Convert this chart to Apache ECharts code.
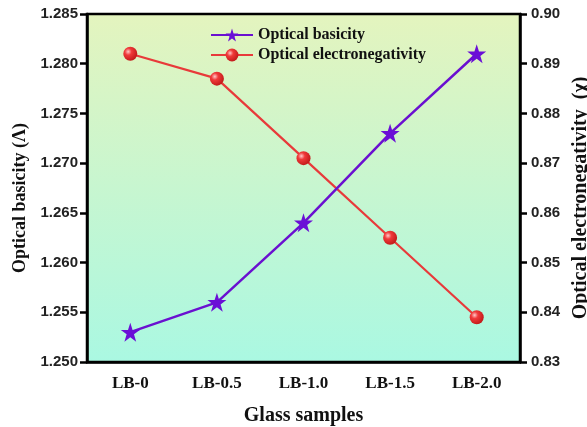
<!DOCTYPE html>
<html>
<head>
<meta charset="utf-8">
<script src="https://cdn.jsdelivr.net/npm/echarts@6/dist/echarts.min.js"></script>
<style>
  html,body{margin:0;padding:0;background:#fff}
  #ch{width:587px;height:427px}
</style>
</head>
<body>
<div id="ch"></div>
<script>
// ── data ──
const samples = ['LB-0', 'LB-0.5', 'LB-1.0', 'LB-1.5', 'LB-2.0'];
const basicity = [1.253, 1.256, 1.264, 1.273, 1.281];
const electroneg = [0.892, 0.887, 0.871, 0.855, 0.839];

const SERIF = '"Liberation Serif", "DejaVu Serif", serif';
const SANS = '"Liberation Sans", Arial, sans-serif';
const STAR = 'path://M50,0 L61.8,35.3 L98.9,35.3 L68.9,57.1 L80.3,92.7 L50,70.9 L19.7,92.7 L31.1,57.1 L1.1,35.3 L38.2,35.3 Z';

const chart = echarts.init(document.getElementById('ch'));

const yAxisBase = {
  type: 'value',
  nameLocation: 'middle',
  nameRotate: 90,
  axisLine: { show: true, lineStyle: { color: '#000', width: 2.5 } },
  axisTick: { show: true, inside: false, length: 7, lineStyle: { color: '#000', width: 2.5 } },
  axisLabel: { fontFamily: SANS, fontWeight: 'bold', fontSize: 15, color: '#222', margin: 9 },
  splitLine: { show: false }
};

chart.setOption({
  animation: false,
  grid: {
    left: 87, right: 67, top: 14, bottom: 65,
    containLabel: false,
    outerBoundsMode: 'none',
    show: true,
    borderColor: '#000', borderWidth: 2.5,
    backgroundColor: new echarts.graphic.LinearGradient(0, 0, 0, 1, [
      { offset: 0, color: '#e4f4be' },
      { offset: 1, color: '#aaf8e2' }
    ])
  },
  legend: {
    top: 22, left: 205,
    orient: 'vertical',
    itemWidth: 42, itemHeight: 16, itemGap: 4,
    textStyle: { fontFamily: SERIF, fontWeight: 'bold', fontSize: 16, color: '#111' },
    data: ['Optical basicity', 'Optical electronegativity']
  },
  xAxis: {
    type: 'category',
    data: samples,
    boundaryGap: true,
    name: 'Glass samples',
    nameLocation: 'middle',
    nameGap: 44,
    nameTextStyle: { fontFamily: SERIF, fontWeight: 'bold', fontSize: 20, color: '#111' },
    axisLine: { lineStyle: { color: '#000', width: 2.5 } },
    axisTick: { alignWithLabel: true, length: 6, lineStyle: { color: '#000', width: 2.5 } },
    axisLabel: { fontFamily: SERIF, fontWeight: 'bold', fontSize: 17, color: '#111', margin: 13 }
  },
  yAxis: [
    Object.assign({}, yAxisBase, {
      name: 'Optical basicity (Λ)', nameGap: 55,
      position: 'left',
      min: 1.25, max: 1.285, interval: 0.005,
      nameTextStyle: { fontFamily: SERIF, fontWeight: 'bold', fontSize: 18, color: '#111', padding: [0, 20, 0, 0] },
      axisLabel: Object.assign({}, yAxisBase.axisLabel, { formatter: v => v.toFixed(3) })
    }),
    Object.assign({}, yAxisBase, {
      name: 'Optical electronegativity  (χ)', nameGap: 37,
      position: 'right',
      min: 0.83, max: 0.9, interval: 0.01,
      nameTextStyle: { fontFamily: SERIF, fontWeight: 'bold', fontSize: 20, color: '#111', padding: [0, 20, 0, 0] },
      axisLabel: Object.assign({}, yAxisBase.axisLabel, { margin: 11, formatter: v => v.toFixed(2) })
    })
  ],
  series: [
    {
      name: 'Optical basicity',
      type: 'line',
      yAxisIndex: 0,
      data: basicity,
      symbol: STAR,
      symbolSize: 19,
      itemStyle: { color: '#6a0fd6' },
      lineStyle: { color: '#6a10d0', width: 2.5 },
      z: 3
    },
    {
      name: 'Optical electronegativity',
      type: 'line',
      yAxisIndex: 1,
      data: electroneg,
      symbol: 'circle',
      symbolSize: 14,
      itemStyle: {
        color: new echarts.graphic.RadialGradient(0.35, 0.35, 0.7, [
          { offset: 0, color: '#ffc8c8' },
          { offset: 0.35, color: '#f03a3a' },
          { offset: 1, color: '#c01818' }
        ])
      },
      lineStyle: { color: '#e83a3a', width: 2.2 },
      z: 2
    }
  ]
});
</script>
</body>
</html>
